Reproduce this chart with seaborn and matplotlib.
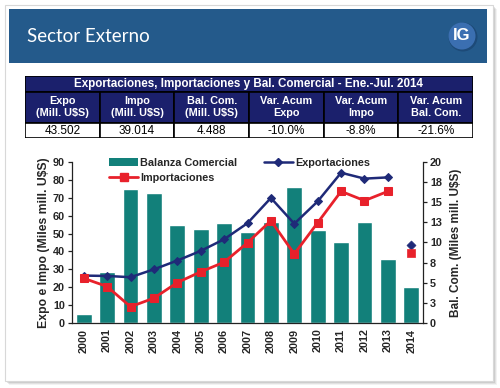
import numpy as np
import matplotlib
matplotlib.use("Agg")
import matplotlib.pyplot as plt
import seaborn as sns
from matplotlib.patches import Rectangle, Ellipse, Patch
from matplotlib.lines import Line2D

# ----------------------------------------------------------
# Data
# ----------------------------------------------------------
years = [str(y) for y in range(2000, 2015)]
balanza = [1.1, 6.3, 16.7, 16.2, 12.2, 11.7, 12.4, 11.3, 12.6, 16.9, 11.6, 10.1, 12.5, 8.0, 4.5]
exportaciones = [26.5, 26.3, 25.6, 30.0, 34.9, 40.3, 46.8, 55.8, 69.9, 55.5, 68.0, 84.0, 80.7, 81.4, 43.4]
importaciones = [25.0, 20.4, 9.1, 13.9, 22.6, 28.6, 34.0, 44.9, 57.2, 38.6, 56.1, 73.6, 68.4, 73.6, 38.9]

left_ticks = list(range(0, 91, 10))
right_ticks = [0, 2.5, 5, 7.5, 10, 12.5, 15, 17.5, 20]
right_labels = ["0", "3", "5", "8", "10", "13", "15", "18", "20"]

table_title = "Exportaciones, Importaciones y Bal. Comercial - Ene.-Jul. 2014"
table_heads = ["Expo\n(Mill. U$S)", "Impo\n(Mill. U$S)", "Bal. Com.\n(Mill. U$S)",
               "Var. Acum\nExpo", "Var. Acum\nImpo", "Var. Acum\nBal. Com."]
table_values = ["43.502", "39.014", "4.488", "-10.0%", "-8.8%", "-21.6%"]

TEAL = "#12807a"
NAVY = "#1f2a78"
RED = "#e8212b"
HEADER_BLUE = "#245a8b"
TABLE_NAVY = "#1b206c"

sns.set_style("white")
plt.rcParams["font.family"] = ["Liberation Sans", "DejaVu Sans"]

W, H = 500, 388
fig = plt.figure(figsize=(W / 100, H / 100), dpi=100)
fig.patch.set_facecolor("white")


def fx(px):
    return px / W


def fy(py):
    return (H - py) / H


# ----------------------------------------------------------
# Card, shadow and header bar
# ----------------------------------------------------------
for off, a in [(4, 0.10), (3, 0.15), (2, 0.2)]:
    fig.patches.append(Rectangle((fx(5 + off), fy(381 + off)), fx(488), (376) / H,
                                 transform=fig.transFigure, facecolor="#808080",
                                 alpha=a, edgecolor="none", zorder=0))
fig.patches.append(Rectangle((fx(5), fy(381)), fx(488), 376 / H, transform=fig.transFigure,
                             facecolor="white", edgecolor="#d8d8d8", lw=0.8, zorder=1))
fig.patches.append(Rectangle((fx(9), fy(63)), fx(478), 54 / H, transform=fig.transFigure,
                             facecolor=HEADER_BLUE, edgecolor="none", zorder=2))
fig.text(fx(27), fy(36), "Sector Externo", color="white", fontsize=13.5,
         family=["Lato", "DejaVu Sans"], va="center", ha="left", zorder=3)
fig.patches.append(Ellipse((fx(463), fy(37)), 29 / W, 29 / H, transform=fig.transFigure,
                           facecolor="#1d4a78", edgecolor="none", zorder=3))
fig.patches.append(Ellipse((fx(462), fy(36)), 27 / W, 27 / H, transform=fig.transFigure,
                           facecolor="#3b6fb1", edgecolor="none", zorder=3))
fig.text(fx(462), fy(36), "IG", color="white", fontsize=12, weight="bold",
         ha="center", va="center", zorder=4)

# ----------------------------------------------------------
# Summary table
# ----------------------------------------------------------
tax = fig.add_axes([fx(25), fy(138), fx(448), 62 / H])
tax.set_zorder(5)
tax.set_xlim(0, 6)
tax.set_ylim(0, 62)
tax.axis("off")
tax.add_patch(Rectangle((0, 46), 6, 16, facecolor=TABLE_NAVY, edgecolor="black", lw=1.2))
tax.text(3, 54, table_title, color="white", weight="bold", fontsize=8.4,
         ha="center", va="center")
for i, (head, val) in enumerate(zip(table_heads, table_values)):
    tax.add_patch(Rectangle((i, 15), 1, 31, facecolor=TABLE_NAVY, edgecolor="black", lw=1.2))
    tax.add_patch(Rectangle((i, 0), 1, 15, facecolor="white", edgecolor="black", lw=1.2))
    tax.text(i + 0.5, 30.5, head, color="white", weight="bold", fontsize=7.8,
             ha="center", va="center", linespacing=1.25)
    tax.text(i + 0.5, 7.5, val, color="black", fontsize=8.5, ha="center", va="center")

# ----------------------------------------------------------
# Chart: bars on the right axis, lines on the left
# ----------------------------------------------------------
ax = fig.add_axes([fx(72), fy(323), fx(351), 161 / H])
ax2 = ax.twinx()
ax2.set_zorder(5)
ax.set_zorder(6)
pos = np.arange(len(years))

sns.barplot(x=years, y=balanza, ax=ax2, color=TEAL, saturation=1, width=0.68)

sns.lineplot(x=pos[:-1], y=exportaciones[:-1], ax=ax, color=NAVY, linewidth=1.8,
             marker="D", markersize=4.5, markeredgecolor=NAVY)
sns.lineplot(x=pos[:-1], y=importaciones[:-1], ax=ax, color=RED, linewidth=2,
             marker="s", markersize=6, markeredgecolor=RED)
sns.scatterplot(x=pos[-1:], y=exportaciones[-1:], ax=ax, color=NAVY, marker="D",
                s=22, edgecolor=NAVY, zorder=5)
sns.scatterplot(x=pos[-1:], y=importaciones[-1:], ax=ax, color=RED, marker="s",
                s=38, edgecolor=RED, zorder=5)

ax.patch.set_visible(False)
ax2.patch.set_visible(False)

ax.set_xlim(-0.5, len(years) - 0.5)
ax.set_ylim(0, 90)
ax2.set_ylim(0, 20)

ax.set_xticks(pos, labels=years, rotation=90)
ax.set_xticks(np.arange(-0.5, len(years), 1), minor=True)
ax.set_yticks(left_ticks)
ax2.set_yticks(right_ticks, labels=right_labels)

ax.tick_params(axis="x", which="major", length=0, pad=4)
ax.tick_params(axis="x", which="minor", length=3, width=0.9, direction="out", color="#222222")
ax.tick_params(axis="y", length=3, width=0.9, direction="out", pad=2, color="#222222")
ax2.tick_params(axis="y", length=3, width=0.9, direction="out", pad=2, color="#222222")
for lab in ax.get_xticklabels() + ax.get_yticklabels() + ax2.get_yticklabels():
    lab.set_fontsize(7.8)
    lab.set_fontweight("bold")

for a in (ax, ax2):
    a.spines["top"].set_visible(False)
    for s in ("left", "right", "bottom"):
        a.spines[s].set_color("#222222")
        a.spines[s].set_linewidth(0.9)
    a.grid(False)
ax.spines["right"].set_visible(False)
ax2.spines["left"].set_visible(False)
ax2.spines["bottom"].set_visible(False)

ax.set_xlabel("")
ax2.set_xlabel("")
ax.set_ylabel("Expo e Impo (Miles mill. U$S)", fontsize=8.8, weight="bold", labelpad=2)
ax2.set_ylabel("Bal. Com. (Miles mill. U$S)", fontsize=8.5, weight="bold", labelpad=6)

handles = [
    Patch(facecolor=TEAL, edgecolor="none"),
    Line2D([], [], color=RED, lw=2, marker="s", markersize=6),
    Line2D([], [], color=NAVY, lw=1.8, marker="D", markersize=4.5),
]
labels = ["Balanza Comercial", "Importaciones", "Exportaciones"]
leg = fig.legend(handles, labels, ncol=2, loc="upper left", bbox_to_anchor=(fx(109), fy(158)),
                 frameon=False, borderpad=0, borderaxespad=0, handlelength=2.7,
                 handleheight=0.8, handletextpad=0.2, columnspacing=2.4, labelspacing=0.45,
                 prop={"weight": "bold", "size": 7.8})
leg.set_zorder(7)

fig.savefig("out.png", dpi=100)
